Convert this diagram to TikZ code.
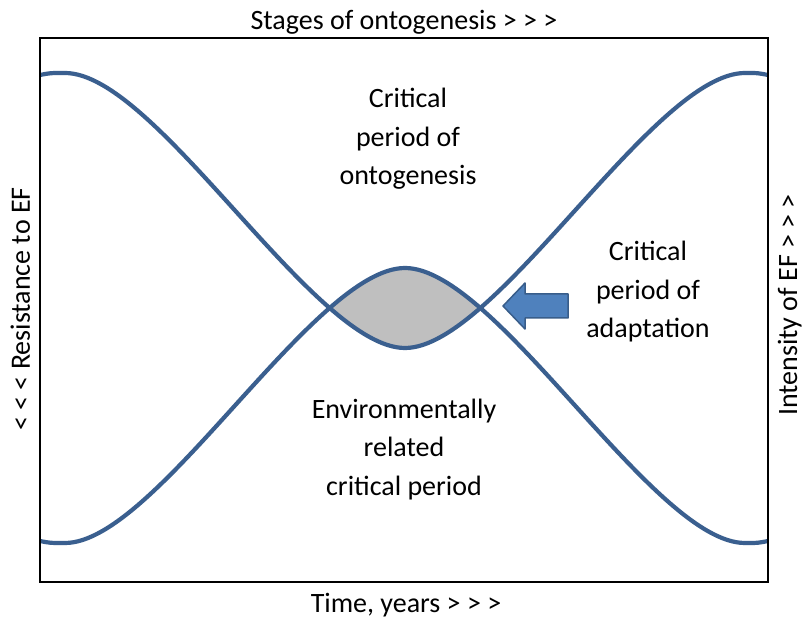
\documentclass[tikz,border=0pt]{standalone}
\usepackage{fontspec}
\setmainfont{Carlito}
\definecolor{curveblue}{HTML}{3A5F8F}
\definecolor{arrowblue}{HTML}{4F81BD}
\definecolor{arrowedge}{HTML}{385D8A}
\definecolor{lensgray}{HTML}{BFBFBF}
\newcommand\valleycurve{(40,75) .. controls (50,73) .. (65,73) .. controls (156,73) and (314,348) .. (405,348) .. controls (496,348) and (654,73) .. (745,73) .. controls (758,73) .. (768,75)}
\newcommand\hillcurve{(40,541) .. controls (50,543) .. (65,543) .. controls (156,543) and (314,268) .. (405,268) .. controls (496,268) and (654,543) .. (745,543) .. controls (758,543) .. (768,541)}
\tikzset{
  curve/.style={curveblue, line width=4.2pt},
  lbl/.style={font=\fontsize{28}{38.5}\selectfont, inner sep=0pt, align=center},
}
\begin{document}
\begin{tikzpicture}[x=1pt,y=-1pt]
\useasboundingbox (0,0) rectangle (804,620);
\fill[white] (0,0) rectangle (804,620);
\begin{scope}
\clip \hillcurve -- (768,582) -- (40,582) -- cycle;
\fill[lensgray] \valleycurve -- (768,38) -- (40,38) -- cycle;
\end{scope}
\draw[curve] \valleycurve;
\draw[curve] \hillcurve;
\draw[line width=2pt] (40,38) rectangle (768,582);
\filldraw[fill=arrowblue, draw=arrowedge, line width=1.5pt, line join=round]
  (503,306) -- (525,283) -- (525,294) -- (568,294) -- (568,318) -- (525,318) -- (525,329) -- cycle;
\node[lbl, anchor=base] (stages) at (404,30) {Stages of ontogenesis > > >};
\node[lbl, anchor=base] (time) at (406,612) {Time, years > > >};
\node[lbl, rotate=90, anchor=base] (resist) at (30,309) {< < < Resistance to EF};
\node[lbl, rotate=90, anchor=base] (intens) at (797,305) {Intensity of EF > > >};
\node[lbl, anchor=base] (ontog) at (408,185) {Critical\\period of\\ontogenesis};
\node[lbl, anchor=base] (adapt) at (648,338) {Critical\\period of\\adaptation};
\node[lbl, anchor=base] (envir) at (404,495) {Environmentally\\related\\critical period};
\end{tikzpicture}
\end{document}
